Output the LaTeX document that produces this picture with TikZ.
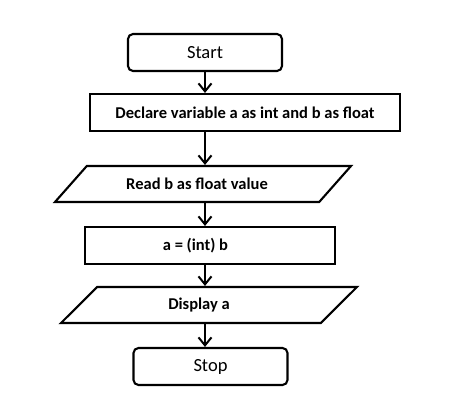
\documentclass[tikz,border=0pt]{standalone}
\usepackage{fontspec}
\setmainfont{Carlito}
\usetikzlibrary{shapes.geometric,arrows.meta}
\begin{document}
\begin{tikzpicture}[x=1pt,y=-1pt,
		terminal/.style={draw, line width=2.1pt, rounded corners=5pt, minimum width=154pt, minimum height=37pt, font=\fontsize{18.5}{20}\selectfont},
		process/.style={draw, line width=2.1pt, minimum height=37pt, font=\bfseries\fontsize{16.5}{18}\selectfont},
		io/.style={draw, line width=2.1pt, trapezium, trapezium left angle=30, trapezium right angle=150, trapezium stretches body, minimum width=296pt, minimum height=36pt, font=\bfseries\fontsize{16.5}{18}\selectfont},
		flow/.style={-{Straight Barb[length=8pt,width=13pt]}, line width=2pt}]
	\useasboundingbox (0,0) rectangle (451,412);
	\node[terminal] (start) at (205,52.5) {Start};
	\node[process, minimum width=310pt] (decl) at (245,112.5) {Declare variable a as int and b as float};
	\node[io] (read) at (203,184) {Read b as float value\hspace*{12pt}};
	\node[process, minimum width=250pt] (cast) at (210,245.5) {a = (int) b\hspace*{29pt}};
	\node[io] (disp) at (209,305) {Display a\hspace*{20pt}};
	\node[terminal] (stop) at (210.5,366.5) {Stop};
	\draw[flow] (start) -- (start |- decl.north);
	\draw[flow] (decl.south -| start) -- (read.north -| start);
	\draw[flow] (read.south -| start) -- (cast.north -| start);
	\draw[flow] (cast.south -| start) -- (disp.north -| start);
	\draw[flow] (disp.south -| start) -- (stop.north -| start);
\end{tikzpicture}
\end{document}
